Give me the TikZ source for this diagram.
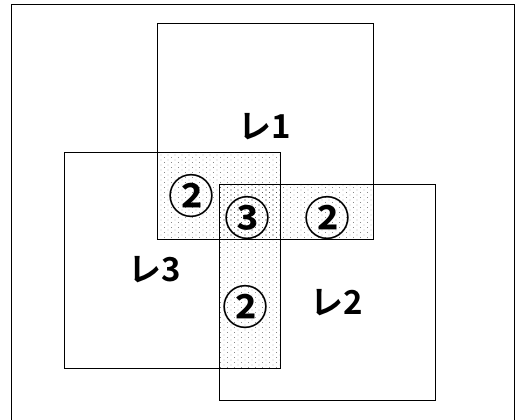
\documentclass[tikz,border=0pt]{standalone}
\usepackage{fontspec}
\newfontfamily\jpfont{Noto Sans CJK JP Bold}
\usepackage{tikz}
\usetikzlibrary{patterns.meta}
\usetikzlibrary{positioning}
\tikzdeclarepattern{
  name=sparse_dots,
  type=uncolored,
  bottom left={(-1pt,-1pt)},
  top right={(8pt,6pt)},
  tile size={(7pt,5pt)},
  code={\fill (0pt,0pt) circle (.45pt); \fill (3.5pt,2.5pt) circle (.45pt);}
}
\tikzset{
square/.style={rectangle, draw, line width=0.6pt, minimum size=215pt, inner sep=0pt},
overlap_two/.style={pattern={sparse_dots}, pattern color=black!70},
overlap_three/.style={fill=black!22, pattern={sparse_dots}, pattern color=black!70},
layer_label/.style={font=\jpfont\fontsize{33}{33}\selectfont, inner sep=0pt},
count_label/.style={font=\jpfont\fontsize{46}{46}\selectfont, inner sep=0pt}
}

\begin{document}
\begin{tikzpicture}[x=1pt, y=-1pt]
    \useasboundingbox (0,0) rectangle (523,420);
    % outer frame, cut at the bottom
    \draw[line width=1pt] (11,425) -- (11,5) -- (514,5) -- (514,425);
    % the three squares (outlines drawn last)
    \node[square, draw=none] (sq_1) at (265.5,131.5) {};
    \node[square, draw=none] (sq_3) at (172.5,260.5) {};
    \node[square, draw=none] (sq_2) at (327,292.5) {};
    % overlaps
    \fill[overlap_two] (sq_1.west |- sq_3.north) rectangle (sq_3.east |- sq_1.south);
    \fill[overlap_two] (sq_2.west |- sq_2.north) rectangle (sq_1.east |- sq_1.south);
    \fill[overlap_two] (sq_2.west |- sq_2.north) rectangle (sq_3.east |- sq_3.south);
    \fill[overlap_three] (sq_2.west |- sq_2.north) rectangle (sq_3.east |- sq_1.south);
    \draw[line width=0.6pt] (sq_1.north west) rectangle (sq_1.south east);
    \draw[line width=0.6pt] (sq_3.north west) rectangle (sq_3.south east);
    \draw[line width=0.6pt] (sq_2.north west) rectangle (sq_2.south east);
    % labels
    \node[layer_label] (lbl_1) at (265,127) {レ1};
    \node[layer_label] (lbl_3) at (155,270) {レ3};
    \node[layer_label] (lbl_2) at (337,303) {レ2};
    \node[count_label] (cnt_13) at (191,196) {②};
    \node[count_label] (cnt_123) at (247,218) {③};
    \node[count_label] (cnt_12) at (327,218) {②};
    \node[count_label] (cnt_23) at (245,307) {②};
\end{tikzpicture}
\end{document}
